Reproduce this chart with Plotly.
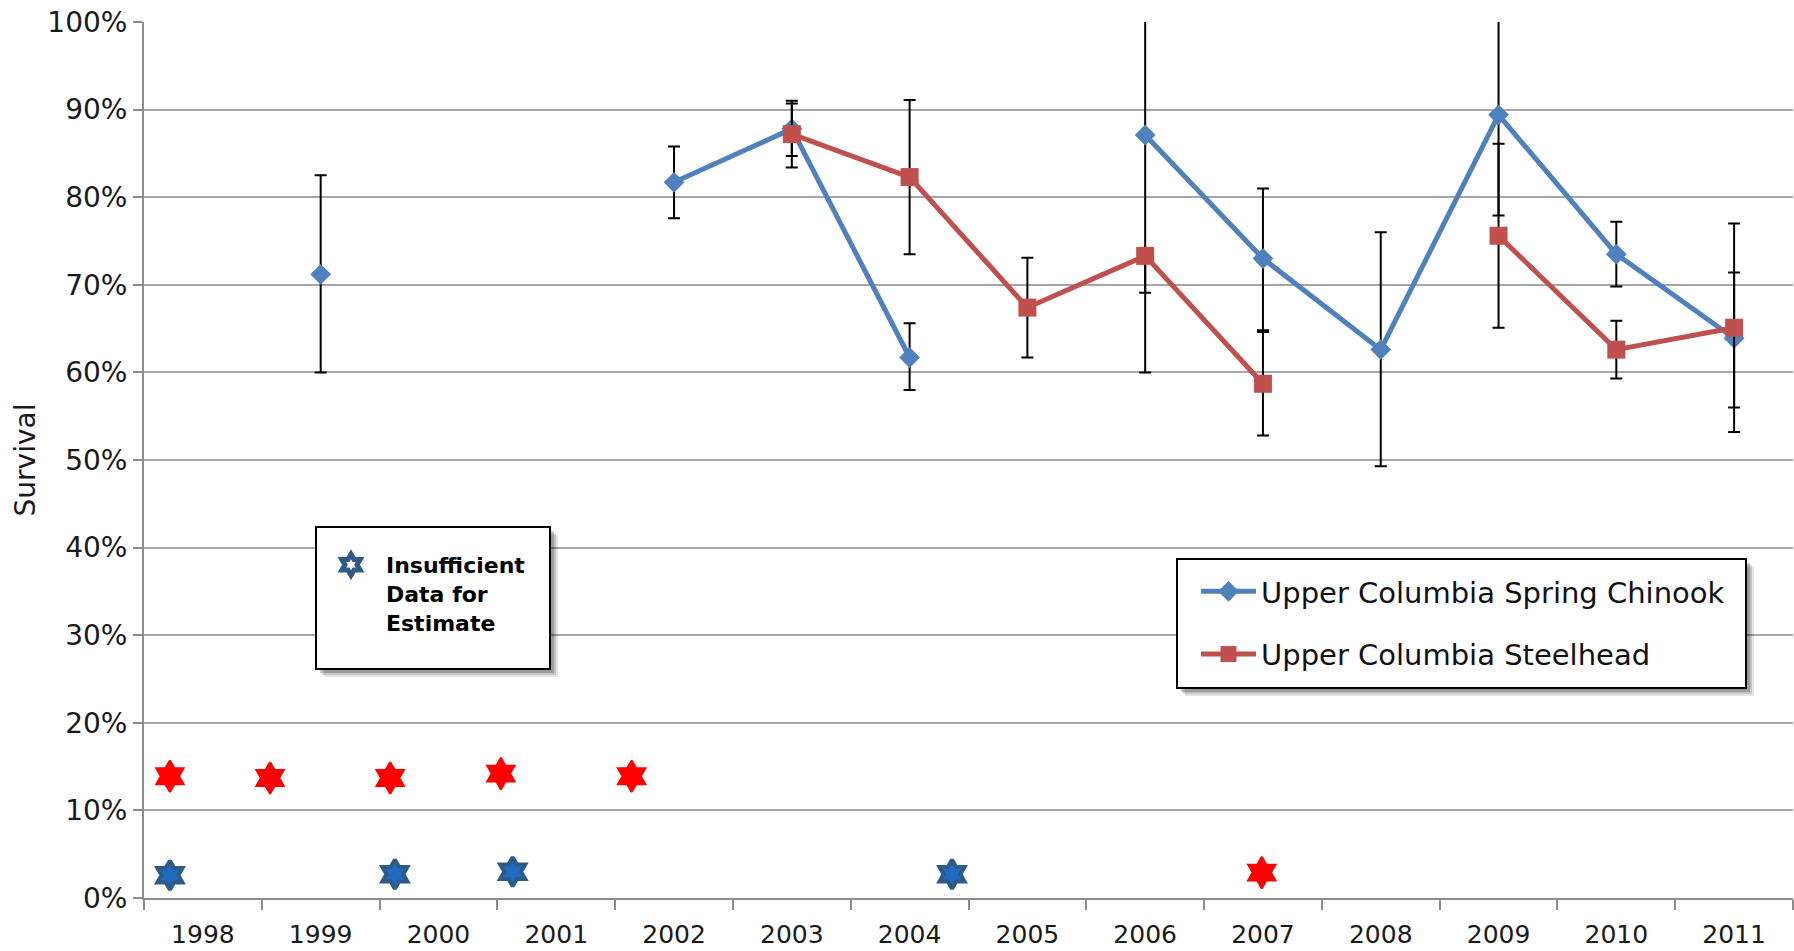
import plotly.graph_objects as go

# ---------------- data ----------------
years = ["1998", "1999", "2000", "2001", "2002", "2003", "2004",
         "2005", "2006", "2007", "2008", "2009", "2010", "2011"]

chinook    = [None, 71.2, None, None, 81.7, 87.8, 61.7, None, 87.1, 73.0, 62.6, 89.4, 73.5, 63.9]
chinook_hi = [None, 82.5, None, None, 85.8, 91.0, 65.6, None, 114.0, 81.0, 76.0, 101.0, 77.2, 71.4]
chinook_lo = [None, 60.0, None, None, 77.6, 84.7, 58.0, None, 60.0, 64.8, 49.3, 77.9, 69.8, 56.0]

steelhead  = [None, None, None, None, None, 87.2, 82.3, 67.4, 73.3, 58.7, None, 75.6, 62.6, 65.1]
steel_hi   = [None, None, None, None, None, 90.7, 91.1, 73.1, 73.3, 64.6, None, 86.1, 65.9, 77.0]
steel_lo   = [None, None, None, None, None, 83.4, 73.5, 61.7, 69.1, 52.8, None, 65.1, 59.3, 53.2]

# "insufficient data" markers (position in category units, survival %)
red_star_x  = [-0.28, 0.57, 1.59, 2.53, 3.64, 8.99]
red_star_y  = [13.9, 13.7, 13.7, 14.2, 13.9, 2.9]
blue_star_x = [-0.28, 1.63, 2.63, 6.36]
blue_star_y = [2.6, 2.7, 3.0, 2.7]

series_names = ["Upper Columbia Spring Chinook", "Upper Columbia Steelhead"]
note_text = "<b>Insufficient<br>Data for<br>Estimate</b>"

# ---------------- helpers ----------------
x_idx = list(range(len(years)))

def err_up(v, hi):
    return [(h - a) if (a is not None and h is not None) else 0 for a, h in zip(v, hi)]

def err_dn(v, lo):
    return [(a - l) if (a is not None and l is not None) else 0 for a, l in zip(v, lo)]

W, H = 1794, 951
L, R, T, B = 144, 1, 22, 53
PW, PH = W - L - R, H - T - B

def px2x(px):
    return (px - L) / PW

def px2y(py):
    return (H - B - py) / PH

FONT = "DejaVu Sans"
BLUE = "#4F81BD"
RED = "#C0504D"

fig = go.Figure()

fig.add_trace(go.Scatter(
    x=x_idx, y=chinook, name=series_names[0], mode="lines+markers",
    line=dict(color=BLUE, width=5), connectgaps=False,
    marker=dict(symbol="diamond", size=16, color=BLUE),
    error_y=dict(type="data", symmetric=False,
                 array=err_up(chinook, chinook_hi), arrayminus=err_dn(chinook, chinook_lo),
                 color="black", thickness=2, width=6),
    legendgroup="a", legend="legend",
))
fig.add_trace(go.Scatter(
    x=x_idx, y=steelhead, name=series_names[1], mode="lines+markers",
    line=dict(color=RED, width=5), connectgaps=False,
    marker=dict(symbol="square", size=18, color=RED),
    error_y=dict(type="data", symmetric=False,
                 array=err_up(steelhead, steel_hi), arrayminus=err_dn(steelhead, steel_lo),
                 color="black", thickness=2, width=6),
    legendgroup="b", legend="legend",
))
fig.add_trace(go.Scatter(
    x=red_star_x, y=red_star_y, mode="markers", showlegend=False,
    marker=dict(symbol="hexagram", size=24, color="#FF0000",
                line=dict(color="#FF0000", width=2)),
))
fig.add_trace(go.Scatter(
    x=blue_star_x, y=blue_star_y, mode="markers", showlegend=False,
    marker=dict(symbol="hexagram", size=22, color="#1E6BBF",
                line=dict(color="#2E5A8A", width=4)),
))
# legend icon for the note box
fig.add_trace(go.Scatter(
    x=[None], y=[None], mode="markers", name=note_text, legend="legend2",
    marker=dict(symbol="hexagram", size=16, color="white",
                line=dict(color="#2E5A8A", width=6)),
))

# boxes with shadows
def box(x0, y0, x1, y1):
    shapes = []
    for off, op in [(8, 0.10), (6, 0.14), (4, 0.20)]:
        shapes.append(dict(type="rect", xref="paper", yref="paper",
                           x0=px2x(x0 + off), x1=px2x(x1 + off),
                           y0=px2y(y1 + off), y1=px2y(y0 + off),
                           fillcolor=f"rgba(0,0,0,{op})", line=dict(width=0), layer="above"))
    shapes.append(dict(type="rect", xref="paper", yref="paper",
                       x0=px2x(x0), x1=px2x(x1), y0=px2y(y1), y1=px2y(y0),
                       fillcolor="white", line=dict(color="black", width=2), layer="above"))
    return shapes

shapes = box(316, 527, 550, 669) + box(1177, 559, 1746, 688)

fig.update_layout(
    width=W, height=H,
    margin=dict(l=L, r=R, t=T, b=B, autoexpand=False),
    paper_bgcolor="white", plot_bgcolor="white",
    font=dict(family=FONT, color="#1a1a1a"),
    shapes=shapes,
    showlegend=True,
    legend=dict(x=px2x(1196), y=px2y(566), xanchor="left", yanchor="top",
                bgcolor="rgba(0,0,0,0)", borderwidth=0,
                font=dict(size=29, family=FONT, color="#111111"),
                itemwidth=55, tracegroupgap=22, traceorder="grouped"),
    legend2=dict(x=px2x(316), y=px2y(544), xanchor="left", yanchor="top",
                 bgcolor="rgba(0,0,0,0)", borderwidth=0,
                 font=dict(size=22, family=FONT, color="#000000"),
                 itemwidth=60, valign="top"),
    xaxis=dict(
        range=[-0.5, len(years) - 0.5], tickmode="array", tickvals=x_idx, ticktext=years,
        showgrid=False, zeroline=False, showline=True, linecolor="#8c8c8c", linewidth=2,
        ticks="outside", ticklen=10, tickcolor="rgba(0,0,0,0)", ticklabelstandoff=3,
        tickfont=dict(size=25, family=FONT, color="#1a1a1a"), automargin=False,
        minor=dict(tickmode="array", tickvals=[i - 0.5 for i in range(len(years) + 1)],
                   ticks="outside", ticklen=10, tickcolor="#8c8c8c", tickwidth=2, showgrid=False),
    ),
    yaxis=dict(
        range=[0, 100], dtick=10, tick0=0, ticksuffix="%",
        showgrid=True, gridcolor="#a6a6a6", gridwidth=2, zeroline=False,
        showline=True, linecolor="#8c8c8c", linewidth=2,
        ticks="outside", ticklen=9, tickcolor="#8c8c8c", tickwidth=2,
        tickfont=dict(size=28, family=FONT, color="#1a1a1a"), automargin=False,
        title=dict(text="Survival", font=dict(size=28, family=FONT, color="#1a1a1a"), standoff=4),
    ),
)

fig.write_html("out.html", config={"displayModeBar": False},
               post_script="document.body.style.margin='0';document.body.style.overflow='hidden';")
